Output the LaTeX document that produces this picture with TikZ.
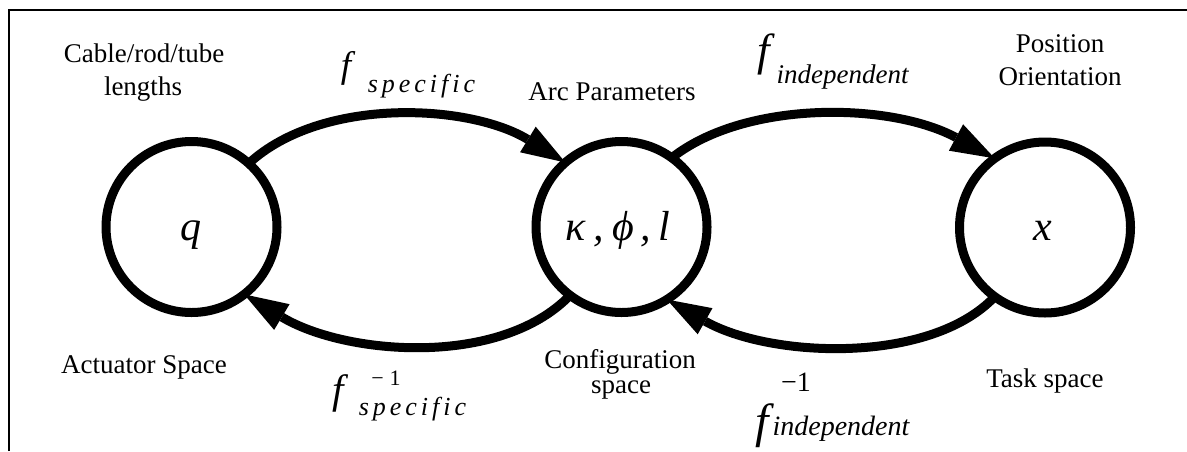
\documentclass[tikz,border=0pt]{standalone}
\usepackage{fontspec}
\setmainfont{Liberation Serif}
\newfontfamily\tnr{Liberation Serif}
\usetikzlibrary{arrows.meta}
\newcommand{\spcword}{s\kern2pt p\kern2pt e\kern2pt c\kern2pt i\kern2pt f\kern2pt i\kern2pt c}
\begin{document}
\begin{tikzpicture}[x=0.5pt,y=-0.5pt,
  state/.style={circle,draw,line width=4.5pt,minimum size=85.5pt,inner sep=0pt,outer sep=0pt},
  arr/.style={line width=4.5pt,-{Triangle[length=22pt,width=15pt,line width=0pt]}},
  lbl/.style={font=\tnr\fontsize{13.5}{16}\selectfont,anchor=base,inner sep=0pt},
  var/.style={font=\tnr\fontsize{21}{24}\selectfont\itshape,anchor=base,inner sep=0pt},
  bigf/.style={anchor=base,inner sep=0pt},
  subs/.style={anchor=base,inner sep=0pt,font=\tnr\fontsize{13.5}{16}\selectfont\itshape},
  sups/.style={anchor=base,inner sep=0pt}
]
\useasboundingbox (0,0) rectangle (1187,451);
% frame
\draw[line width=1.3pt] (9,451) -- (9,10) -- (1187,10);
% states
\node[state] (q) at (191.5,227) {};
\node[state] (m) at (621.5,227) {};
\node[state] (t) at (1045,227.5) {};
\node[var] (qv) at (191,240) {q};
\node[var] (mv) at (618,240) {κ\kern4pt,\kern4pt ϕ\kern3pt,\kern4pt l};
\node[var] (tv) at (1043,240) {x};
% arrows
\draw[arr] (q.48) .. controls (322,96) and (470,104) .. (m.131);
\draw[arr] (m.54) .. controls (745,100) and (890,102) .. (t.126);
\draw[arr] (m.233) .. controls (500,368) and (345,355) .. (q.308);
\draw[arr] (t.234) .. controls (930,365) and (770,358) .. (m.302);
% text labels
\node[lbl] (c1) at (144,62) {Cable/rod/tube};
\node[lbl] (c2) at (143,95) {lengths};
\node[lbl] (as) at (144,373) {Actuator Space};
\node[lbl] (ap) at (612,100) {Arc Parameters};
\node[lbl] (cf1) at (620,368) {Configuration};
\node[lbl] (cf2) at (621,393) {space};
\node[lbl] (p1) at (1060,52) {Position};
\node[lbl] (p2) at (1060,85) {Orientation};
\node[lbl] (ts) at (1045,387) {Task space};
% function labels
\node[bigf,font=\tnr\fontsize{18.5}{20}\selectfont\itshape] (f1) at (346,77) {f};
\node[subs,font=\tnr\fontsize{13}{15}\selectfont\itshape] (s1) at (421.5,92) {\spcword};
\node[bigf,font=\tnr\fontsize{22.5}{24}\selectfont\itshape] (f2) at (764,65) {f};
\node[subs] (s2) at (842.5,83) {independent};
\node[bigf,font=\tnr\fontsize{20.5}{22}\selectfont\itshape] (f3) at (338,403) {f};
\node[sups,font=\tnr\fontsize{11}{13}\selectfont] (u3) at (386,385) {−\kern3pt 1};
\node[subs,font=\tnr\fontsize{13}{15}\selectfont\itshape] (s3) at (412.5,415) {\spcword};
\node[bigf,font=\tnr\fontsize{24}{26}\selectfont\itshape] (f4) at (762,437) {f};
\node[sups,font=\tnr\fontsize{14}{16}\selectfont] (u4) at (796,391) {−1};
\node[subs,font=\tnr\fontsize{14}{16}\selectfont\itshape] (s4) at (841,435) {independent};
\end{tikzpicture}
\end{document}
